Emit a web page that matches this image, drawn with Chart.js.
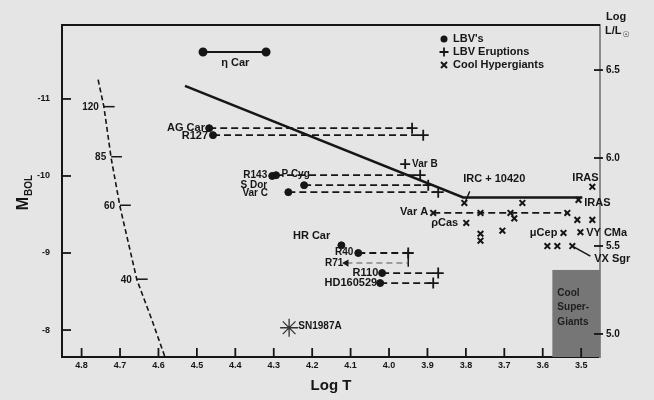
<!DOCTYPE html>
<html><head><meta charset="utf-8">
<script src="https://cdn.jsdelivr.net/npm/chart.js@4.4.0/dist/chart.umd.min.js"></script>
<style>html,body{margin:0;padding:0;background:#e4e4e4;}canvas{display:block;}</style>
</head><body>
<canvas id="c" width="654" height="400"></canvas>
<script>
// ---------------- data ----------------
const xTicks = [3.5,3.6,3.7,3.8,3.9,4.0,4.1,4.2,4.3,4.4,4.5,4.6,4.7,4.8];
const mbolTicks = [-11,-10,-9,-8];
const logLTicks = [5.0,5.5,6.0,6.5];

// zero-age main sequence (dashed) and mass marks
const zamsT = [4.757,4.742,4.723,4.700,4.656,4.617,4.583];
const zamsM = [-11.25,-10.90,-10.23,-9.60,-8.65,-8.13,-7.65];
const zamsMass = ['120','85','60','40'];
const zamsMassT = [4.742,4.723,4.700,4.656];
const zamsMassM = [-10.90,-10.25,-9.62,-8.66];

// Humphreys-Davidson limit
const hdLimitT = [4.531,3.807,3.497];
const hdLimitM = [-11.17,-9.72,-9.72];

// eta Car
const etaCarT = [4.484,4.320];
const etaCarM = -11.61;

// LBVs: quiescent (dot) -> eruption (+)
const lbvNames = ['AG Car','R127','P Cyg','S Dor','Var C','R40','R110','HD160529'];
const lbvQuietT = [4.468,4.458,4.294,4.221,4.262,4.080,4.018,4.023];
const lbvEruptT = [3.940,3.911,3.919,3.898,3.872,3.950,3.872,3.885];
const lbvM      = [-10.62,-10.53,-10.01,-9.88,-9.79,-9.00,-8.74,-8.61];

// single LBVs
const lbvDotNames = ['R143','HR Car'];
const lbvDotT = [4.304,4.124];
const lbvDotM = [-10.00,-9.10];
const r71T = [4.111,3.950];
const r71M = -8.87;
const r71BarM = [-9.04,-8.82];
const varBT = 3.958, varBM = -10.155;

// cool hypergiants (X)
const chT = [3.804,3.885,3.762,3.684,3.536,3.674,3.653,3.799,3.762,3.762,3.705,3.510,3.471,3.471,3.507,3.546,3.502,3.588,3.562,3.523];
const chM = [-9.65,-9.52,-9.52,-9.52,-9.52,-9.45,-9.65,-9.39,-9.25,-9.16,-9.29,-9.43,-9.43,-9.86,-9.69,-9.26,-9.27,-9.09,-9.09,-9.09];
const varALineT = [3.885,3.536];
const varALineM = -9.52;
const vxSgrTailT = [3.523,3.476], vxSgrTailM = [-9.09,-8.96];
const ircLinkT = [3.790,3.802], ircLinkM = [-9.80,-9.66];

// SN 1987A
const snT = 4.260, snM = -8.03;

// cool supergiant region
const coolSGT = [3.575,3.451];
const coolSGM = [-8.78,-7.65];
const coolSGText = ['Cool','Super-','Giants'];

// text labels: [text, logT, Mbol, align, size]
const labelText  = ['η Car','AG Car','R127','R143','P Cyg','Var B','S Dor','Var C','HR Car','R40','R71','R110','HD160529','SN1987A',
                    'IRC + 10420','IRAS','IRAS','Var A','ρCas','μCep','VY CMa','VX Sgr'];
const labelT     = [4.400,4.479,4.471,4.317,4.280,3.940,4.317,4.315,4.153,4.093,4.119,4.028,4.031,4.236,
                    3.807,3.523,3.492,3.898,3.820,3.562,3.487,3.466];
const labelM     = [-11.47,-10.62,-10.52,-10.01,-10.025,-10.155,-9.885,-9.78,-9.22,-9.01,-8.87,-8.74,-8.61,-8.05,
                    -9.96,-9.97,-9.65,-9.53,-9.39,-9.26,-9.26,-8.92];
const labelAlign = ['center','right','right','right','left','left','right','right','right','right','right','right','right','left',
                    'left','left','left','right','right','right','left','left'];
const labelSize  = [11,11,11,10,10,10,10,10,11,10,10,11,11,10,
                    11,11,11,11,11,11,11,11];

const legendText = ["LBV's",'LBV Eruptions','Cool Hypergiants'];

// ---------------- build chart ----------------
const INK = '#161616';
const FONT = '"Liberation Sans", Arial, sans-serif';
const pts = (ts, ms) => ts.map((t,i)=>({x:t, y: Array.isArray(ms)?ms[i]:ms}));

const datasets = [];
datasets.push({label:'ZAMS', data: pts(zamsT,zamsM), showLine:true, borderColor:INK, borderWidth:1.6, borderDash:[5,3], pointRadius:0});
zamsMassT.forEach((t,i)=>{
  datasets.push({label:'mass '+zamsMass[i], data:[{x:t,y:zamsMassM[i]},{x:t-0.028,y:zamsMassM[i]}], showLine:true, borderColor:INK, borderWidth:1.5, pointRadius:0});
});
datasets.push({label:'HD limit', data: pts(hdLimitT,hdLimitM), showLine:true, borderColor:INK, borderWidth:2.6, pointRadius:0});
datasets.push({label:'η Car', data: pts(etaCarT,etaCarM), showLine:true, borderColor:INK, borderWidth:2, pointRadius:3.5, pointStyle:'circle', pointBackgroundColor:INK, pointBorderColor:INK});
lbvNames.forEach((n,i)=>{
  datasets.push({label:n, data:[{x:lbvQuietT[i],y:lbvM[i]},{x:lbvEruptT[i],y:lbvM[i]}], showLine:true,
    borderColor:INK, borderWidth:1.8, borderDash:[7,4],
    pointStyle:['circle','cross'], pointRadius:[3.5,5.5], pointBorderWidth:[1,1.8],
    pointBackgroundColor:INK, pointBorderColor:INK});
});
datasets.push({label:'R71', data: pts(r71T,r71M), showLine:true, borderColor:'#555', borderWidth:1.2, borderDash:[6,4],
  pointStyle:['triangle',false], pointRadius:[3,0], rotation:-90, pointBackgroundColor:INK, pointBorderColor:INK});
datasets.push({label:'R71 bar', data: [{x:r71T[1],y:r71BarM[0]},{x:r71T[1],y:r71BarM[1]}], showLine:true, borderColor:INK, borderWidth:1.5, pointRadius:0});
datasets.push({label:'LBV dots', data: pts(lbvDotT,lbvDotM), showLine:false, pointStyle:'circle', pointRadius:3.5, pointBackgroundColor:INK, pointBorderColor:INK});
datasets.push({label:'Var B', data:[{x:varBT,y:varBM}], showLine:false, pointStyle:'cross', pointRadius:5, pointBorderWidth:1.8, pointBorderColor:INK});
datasets.push({label:'Var A excursion', data: pts(varALineT,varALineM), showLine:true, borderColor:INK, borderWidth:1.8, borderDash:[7,4], pointRadius:0});
datasets.push({label:'VX Sgr tail', data: pts(vxSgrTailT,vxSgrTailM), showLine:true, borderColor:INK, borderWidth:1.6, pointRadius:0});
datasets.push({label:'IRC link', data: pts(ircLinkT,ircLinkM), showLine:true, borderColor:INK, borderWidth:1.4, pointRadius:0});
datasets.push({label:'Cool Hypergiants', data: pts(chT,chM), showLine:false, pointStyle:'crossRot', pointRadius:4, pointBorderWidth:2, pointBorderColor:INK});
datasets.push({label:'SN1987A', data:[{x:snT,y:snM}], showLine:false, pointStyle:'star', pointRadius:9, pointBorderWidth:1.3, pointBorderColor:'#333'});

const decor = {
  id:'decor',
  beforeDraw(chart){
    const c = chart.ctx; c.save(); c.fillStyle='#e5e5e5'; c.fillRect(0,0,chart.width,chart.height); c.restore();
  },
  beforeDatasetsDraw(chart){
    const c = chart.ctx, x = chart.scales.x, y = chart.scales.y;
    const x0 = x.getPixelForValue(coolSGT[0]), x1 = x.getPixelForValue(coolSGT[1]);
    const y0 = y.getPixelForValue(coolSGM[0]), y1 = y.getPixelForValue(coolSGM[1]);
    c.save(); c.fillStyle='#767676'; c.fillRect(x0,y0,x1-x0,y1-y0); c.restore();
  },
  afterDraw(chart){
    const c = chart.ctx, x = chart.scales.x, y = chart.scales.y, y2 = chart.scales.y2, a = chart.chartArea;
    c.save();
    c.strokeStyle = INK; c.lineWidth = 2;
    // top frame
    c.beginPath(); c.moveTo(a.left-1,a.top); c.lineTo(a.right,a.top); c.stroke();
    // inner ticks
    c.lineWidth = 1.8;
    xTicks.forEach(v=>{const p=x.getPixelForValue(v); c.beginPath(); c.moveTo(p,a.bottom); c.lineTo(p,a.bottom-9); c.stroke();});
    mbolTicks.forEach(v=>{const p=y.getPixelForValue(v); c.beginPath(); c.moveTo(a.left,p); c.lineTo(a.left+9,p); c.stroke();});
    logLTicks.forEach(v=>{const p=y2.getPixelForValue(v); c.beginPath(); c.moveTo(a.right-6,p); c.lineTo(a.right+3,p); c.stroke();});
    // star labels
    c.fillStyle = INK; c.textBaseline='middle';
    labelText.forEach((t,i)=>{ c.font = 'bold '+labelSize[i]+'px '+FONT; c.textAlign = labelAlign[i]; c.fillText(t, x.getPixelForValue(labelT[i]), y.getPixelForValue(labelM[i])); });
    // mass labels
    c.font = 'bold 10px '+FONT; c.textAlign='right';
    zamsMass.forEach((t,i)=>{ c.fillText(t, x.getPixelForValue(zamsMassT[i])-5, y.getPixelForValue(zamsMassM[i])+1); });
    // cool supergiant text
    c.font = 'bold 10px '+FONT; c.textAlign='left'; c.fillStyle='#1e1e1e';
    const bx = x.getPixelForValue(coolSGT[0])+5, by = y.getPixelForValue(coolSGM[0]);
    coolSGText.forEach((t,i)=>c.fillText(t, bx, by+23+i*14.5));
    // legend
    c.fillStyle = INK; c.strokeStyle = INK; c.font = 'bold 11px '+FONT; c.textAlign='left';
    const lx = 444, ly = [39,52,65];
    c.beginPath(); c.arc(lx,ly[0],3.5,0,Math.PI*2); c.fill();
    c.lineWidth=1.8; c.beginPath(); c.moveTo(lx-4.5,ly[1]); c.lineTo(lx+4.5,ly[1]); c.moveTo(lx,ly[1]-4.5); c.lineTo(lx,ly[1]+4.5); c.stroke();
    c.lineWidth=2; c.beginPath(); c.moveTo(lx-3,ly[2]-3); c.lineTo(lx+3,ly[2]+3); c.moveTo(lx+3,ly[2]-3); c.lineTo(lx-3,ly[2]+3); c.stroke();
    legendText.forEach((t,i)=>c.fillText(t, lx+9, ly[i]));
    // axis titles
    c.font = 'bold 15px '+FONT; c.textAlign='center';
    c.fillText('Log T', 331, 386);
    // M_BOL rotated
    c.save(); c.translate(24,193); c.rotate(-Math.PI/2);
    c.textAlign='left'; c.font='bold 16px '+FONT;
    const mw = c.measureText('M').width; c.font='bold 10px '+FONT; const bw = c.measureText('BOL').width;
    const start = -(mw+bw)/2;
    c.font='bold 16px '+FONT; c.fillText('M', start, 0);
    c.font='bold 10px '+FONT; c.fillText('BOL', start+mw+1, 5);
    c.restore();
    // Log L/L_sun
    c.textAlign='left'; c.font='bold 11px '+FONT;
    c.fillText('Log', 606, 17);
    c.fillText('L/L', 605, 31);
    const lw = c.measureText('L/L').width;
    c.font='bold 8px "DejaVu Sans", sans-serif'; c.fillText('☉', 605+lw+1, 35);
    c.restore();
  }
};

const tickFont = {family: FONT, size: 9, weight: 'bold'};
new Chart(document.getElementById('c'), {
  type: 'scatter',
  data: {datasets},
  options: {
    responsive:false, animation:false, devicePixelRatio:1,
    layout:{padding:{top:25,left:0,right:0,bottom:0}},
    plugins:{legend:{display:false}, tooltip:{enabled:false}},
    scales:{
      x:{type:'linear', reverse:true, min:3.451, max:4.851,
         afterFit(s){s.height=43;},
         afterBuildTicks(s){s.ticks = xTicks.map(v=>({value:v}));},
         ticks:{autoSkip:false, padding:3, color:INK, font:tickFont, maxRotation:0, callback:v=>Number(v).toFixed(1)},
         grid:{display:false, drawTicks:false},
         border:{display:true, color:INK, width:2}},
      y:{type:'linear', position:'left', reverse:true, min:-11.96, max:-7.65,
         afterFit(s){s.width=62;},
         afterBuildTicks(s){s.ticks = mbolTicks.map(v=>({value:v}));},
         ticks:{autoSkip:false, padding:12, color:INK, font:tickFont, callback:v=>String(v)},
         grid:{display:false, drawTicks:false},
         border:{display:true, color:INK, width:2}},
      y2:{type:'linear', position:'right', min:4.869, max:6.756,
         afterFit(s){s.width=54;},
         afterBuildTicks(s){s.ticks = logLTicks.map(v=>({value:v}));},
         ticks:{autoSkip:false, padding:6, color:INK, font:{family:FONT,size:10,weight:'bold'}, callback:v=>Number(v).toFixed(1)},
         grid:{display:false, drawTicks:false},
         border:{display:true, color:'#8a8a8a', width:2}}
    }
  },
  plugins:[decor]
});
</script>
</body></html>
